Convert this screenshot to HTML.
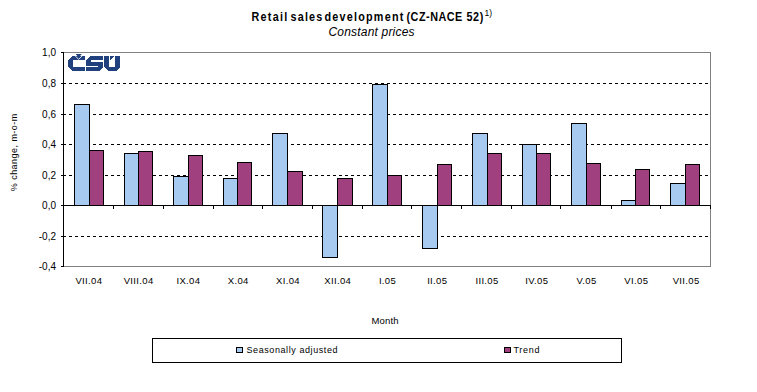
<!DOCTYPE html>
<html><head><meta charset="utf-8"><style>
html,body{margin:0;padding:0;background:#fff;}
svg{display:block;}
text{font-family:"Liberation Sans",sans-serif;}
</style></head><body>
<svg width="757" height="392" viewBox="0 0 757 392" shape-rendering="crispEdges">
<rect x="0" y="0" width="757" height="392" fill="#fff"/>
<g font-size="12" font-weight="bold" transform="scale(0.9,1)"><text x="279.44" y="21" textLength="39.78" lengthAdjust="spacing">Retail</text><text x="322.78" y="21" textLength="35.33" lengthAdjust="spacing">sales</text><text x="360.56" y="21" textLength="87.56" lengthAdjust="spacing">development</text><text x="451.67" y="21" textLength="62.00" lengthAdjust="spacing">(CZ-NACE</text><text x="518.33" y="21" textLength="18.67" lengthAdjust="spacing">52)</text></g>
<text x="484.6" y="15.5" font-size="8.5">1)</text>
<text x="328.5" y="35.5" font-size="12" font-style="italic" textLength="86" lengthAdjust="spacing">Constant prices</text>
<path d="M63 83h3v1h-3zM69 83h3v1h-3zM75 83h3v1h-3zM81 83h3v1h-3zM87 83h3v1h-3zM93 83h3v1h-3zM99 83h3v1h-3zM105 83h3v1h-3zM111 83h3v1h-3zM117 83h3v1h-3zM123 83h3v1h-3zM129 83h3v1h-3zM135 83h3v1h-3zM141 83h3v1h-3zM147 83h3v1h-3zM153 83h3v1h-3zM159 83h3v1h-3zM165 83h3v1h-3zM171 83h3v1h-3zM177 83h3v1h-3zM183 83h3v1h-3zM189 83h3v1h-3zM195 83h3v1h-3zM201 83h3v1h-3zM207 83h3v1h-3zM213 83h3v1h-3zM219 83h3v1h-3zM225 83h3v1h-3zM231 83h3v1h-3zM237 83h3v1h-3zM243 83h3v1h-3zM249 83h3v1h-3zM255 83h3v1h-3zM261 83h3v1h-3zM267 83h3v1h-3zM273 83h3v1h-3zM279 83h3v1h-3zM285 83h3v1h-3zM291 83h3v1h-3zM297 83h3v1h-3zM303 83h3v1h-3zM309 83h3v1h-3zM315 83h3v1h-3zM321 83h3v1h-3zM327 83h3v1h-3zM333 83h3v1h-3zM339 83h3v1h-3zM345 83h3v1h-3zM351 83h3v1h-3zM357 83h3v1h-3zM363 83h3v1h-3zM369 83h3v1h-3zM375 83h3v1h-3zM381 83h3v1h-3zM387 83h3v1h-3zM393 83h3v1h-3zM399 83h3v1h-3zM405 83h3v1h-3zM411 83h3v1h-3zM417 83h3v1h-3zM423 83h3v1h-3zM429 83h3v1h-3zM435 83h3v1h-3zM441 83h3v1h-3zM447 83h3v1h-3zM453 83h3v1h-3zM459 83h3v1h-3zM465 83h3v1h-3zM471 83h3v1h-3zM477 83h3v1h-3zM483 83h3v1h-3zM489 83h3v1h-3zM495 83h3v1h-3zM501 83h3v1h-3zM507 83h3v1h-3zM513 83h3v1h-3zM519 83h3v1h-3zM525 83h3v1h-3zM531 83h3v1h-3zM537 83h3v1h-3zM543 83h3v1h-3zM549 83h3v1h-3zM555 83h3v1h-3zM561 83h3v1h-3zM567 83h3v1h-3zM573 83h3v1h-3zM579 83h3v1h-3zM585 83h3v1h-3zM591 83h3v1h-3zM597 83h3v1h-3zM603 83h3v1h-3zM609 83h3v1h-3zM615 83h3v1h-3zM621 83h3v1h-3zM627 83h3v1h-3zM633 83h3v1h-3zM639 83h3v1h-3zM645 83h3v1h-3zM651 83h3v1h-3zM657 83h3v1h-3zM663 83h3v1h-3zM669 83h3v1h-3zM675 83h3v1h-3zM681 83h3v1h-3zM687 83h3v1h-3zM693 83h3v1h-3zM699 83h3v1h-3zM705 83h3v1h-3z" fill="#000"/>
<path d="M63 114h3v1h-3zM69 114h3v1h-3zM75 114h3v1h-3zM81 114h3v1h-3zM87 114h3v1h-3zM93 114h3v1h-3zM99 114h3v1h-3zM105 114h3v1h-3zM111 114h3v1h-3zM117 114h3v1h-3zM123 114h3v1h-3zM129 114h3v1h-3zM135 114h3v1h-3zM141 114h3v1h-3zM147 114h3v1h-3zM153 114h3v1h-3zM159 114h3v1h-3zM165 114h3v1h-3zM171 114h3v1h-3zM177 114h3v1h-3zM183 114h3v1h-3zM189 114h3v1h-3zM195 114h3v1h-3zM201 114h3v1h-3zM207 114h3v1h-3zM213 114h3v1h-3zM219 114h3v1h-3zM225 114h3v1h-3zM231 114h3v1h-3zM237 114h3v1h-3zM243 114h3v1h-3zM249 114h3v1h-3zM255 114h3v1h-3zM261 114h3v1h-3zM267 114h3v1h-3zM273 114h3v1h-3zM279 114h3v1h-3zM285 114h3v1h-3zM291 114h3v1h-3zM297 114h3v1h-3zM303 114h3v1h-3zM309 114h3v1h-3zM315 114h3v1h-3zM321 114h3v1h-3zM327 114h3v1h-3zM333 114h3v1h-3zM339 114h3v1h-3zM345 114h3v1h-3zM351 114h3v1h-3zM357 114h3v1h-3zM363 114h3v1h-3zM369 114h3v1h-3zM375 114h3v1h-3zM381 114h3v1h-3zM387 114h3v1h-3zM393 114h3v1h-3zM399 114h3v1h-3zM405 114h3v1h-3zM411 114h3v1h-3zM417 114h3v1h-3zM423 114h3v1h-3zM429 114h3v1h-3zM435 114h3v1h-3zM441 114h3v1h-3zM447 114h3v1h-3zM453 114h3v1h-3zM459 114h3v1h-3zM465 114h3v1h-3zM471 114h3v1h-3zM477 114h3v1h-3zM483 114h3v1h-3zM489 114h3v1h-3zM495 114h3v1h-3zM501 114h3v1h-3zM507 114h3v1h-3zM513 114h3v1h-3zM519 114h3v1h-3zM525 114h3v1h-3zM531 114h3v1h-3zM537 114h3v1h-3zM543 114h3v1h-3zM549 114h3v1h-3zM555 114h3v1h-3zM561 114h3v1h-3zM567 114h3v1h-3zM573 114h3v1h-3zM579 114h3v1h-3zM585 114h3v1h-3zM591 114h3v1h-3zM597 114h3v1h-3zM603 114h3v1h-3zM609 114h3v1h-3zM615 114h3v1h-3zM621 114h3v1h-3zM627 114h3v1h-3zM633 114h3v1h-3zM639 114h3v1h-3zM645 114h3v1h-3zM651 114h3v1h-3zM657 114h3v1h-3zM663 114h3v1h-3zM669 114h3v1h-3zM675 114h3v1h-3zM681 114h3v1h-3zM687 114h3v1h-3zM693 114h3v1h-3zM699 114h3v1h-3zM705 114h3v1h-3z" fill="#000"/>
<path d="M63 144h3v1h-3zM69 144h3v1h-3zM75 144h3v1h-3zM81 144h3v1h-3zM87 144h3v1h-3zM93 144h3v1h-3zM99 144h3v1h-3zM105 144h3v1h-3zM111 144h3v1h-3zM117 144h3v1h-3zM123 144h3v1h-3zM129 144h3v1h-3zM135 144h3v1h-3zM141 144h3v1h-3zM147 144h3v1h-3zM153 144h3v1h-3zM159 144h3v1h-3zM165 144h3v1h-3zM171 144h3v1h-3zM177 144h3v1h-3zM183 144h3v1h-3zM189 144h3v1h-3zM195 144h3v1h-3zM201 144h3v1h-3zM207 144h3v1h-3zM213 144h3v1h-3zM219 144h3v1h-3zM225 144h3v1h-3zM231 144h3v1h-3zM237 144h3v1h-3zM243 144h3v1h-3zM249 144h3v1h-3zM255 144h3v1h-3zM261 144h3v1h-3zM267 144h3v1h-3zM273 144h3v1h-3zM279 144h3v1h-3zM285 144h3v1h-3zM291 144h3v1h-3zM297 144h3v1h-3zM303 144h3v1h-3zM309 144h3v1h-3zM315 144h3v1h-3zM321 144h3v1h-3zM327 144h3v1h-3zM333 144h3v1h-3zM339 144h3v1h-3zM345 144h3v1h-3zM351 144h3v1h-3zM357 144h3v1h-3zM363 144h3v1h-3zM369 144h3v1h-3zM375 144h3v1h-3zM381 144h3v1h-3zM387 144h3v1h-3zM393 144h3v1h-3zM399 144h3v1h-3zM405 144h3v1h-3zM411 144h3v1h-3zM417 144h3v1h-3zM423 144h3v1h-3zM429 144h3v1h-3zM435 144h3v1h-3zM441 144h3v1h-3zM447 144h3v1h-3zM453 144h3v1h-3zM459 144h3v1h-3zM465 144h3v1h-3zM471 144h3v1h-3zM477 144h3v1h-3zM483 144h3v1h-3zM489 144h3v1h-3zM495 144h3v1h-3zM501 144h3v1h-3zM507 144h3v1h-3zM513 144h3v1h-3zM519 144h3v1h-3zM525 144h3v1h-3zM531 144h3v1h-3zM537 144h3v1h-3zM543 144h3v1h-3zM549 144h3v1h-3zM555 144h3v1h-3zM561 144h3v1h-3zM567 144h3v1h-3zM573 144h3v1h-3zM579 144h3v1h-3zM585 144h3v1h-3zM591 144h3v1h-3zM597 144h3v1h-3zM603 144h3v1h-3zM609 144h3v1h-3zM615 144h3v1h-3zM621 144h3v1h-3zM627 144h3v1h-3zM633 144h3v1h-3zM639 144h3v1h-3zM645 144h3v1h-3zM651 144h3v1h-3zM657 144h3v1h-3zM663 144h3v1h-3zM669 144h3v1h-3zM675 144h3v1h-3zM681 144h3v1h-3zM687 144h3v1h-3zM693 144h3v1h-3zM699 144h3v1h-3zM705 144h3v1h-3z" fill="#000"/>
<path d="M63 175h3v1h-3zM69 175h3v1h-3zM75 175h3v1h-3zM81 175h3v1h-3zM87 175h3v1h-3zM93 175h3v1h-3zM99 175h3v1h-3zM105 175h3v1h-3zM111 175h3v1h-3zM117 175h3v1h-3zM123 175h3v1h-3zM129 175h3v1h-3zM135 175h3v1h-3zM141 175h3v1h-3zM147 175h3v1h-3zM153 175h3v1h-3zM159 175h3v1h-3zM165 175h3v1h-3zM171 175h3v1h-3zM177 175h3v1h-3zM183 175h3v1h-3zM189 175h3v1h-3zM195 175h3v1h-3zM201 175h3v1h-3zM207 175h3v1h-3zM213 175h3v1h-3zM219 175h3v1h-3zM225 175h3v1h-3zM231 175h3v1h-3zM237 175h3v1h-3zM243 175h3v1h-3zM249 175h3v1h-3zM255 175h3v1h-3zM261 175h3v1h-3zM267 175h3v1h-3zM273 175h3v1h-3zM279 175h3v1h-3zM285 175h3v1h-3zM291 175h3v1h-3zM297 175h3v1h-3zM303 175h3v1h-3zM309 175h3v1h-3zM315 175h3v1h-3zM321 175h3v1h-3zM327 175h3v1h-3zM333 175h3v1h-3zM339 175h3v1h-3zM345 175h3v1h-3zM351 175h3v1h-3zM357 175h3v1h-3zM363 175h3v1h-3zM369 175h3v1h-3zM375 175h3v1h-3zM381 175h3v1h-3zM387 175h3v1h-3zM393 175h3v1h-3zM399 175h3v1h-3zM405 175h3v1h-3zM411 175h3v1h-3zM417 175h3v1h-3zM423 175h3v1h-3zM429 175h3v1h-3zM435 175h3v1h-3zM441 175h3v1h-3zM447 175h3v1h-3zM453 175h3v1h-3zM459 175h3v1h-3zM465 175h3v1h-3zM471 175h3v1h-3zM477 175h3v1h-3zM483 175h3v1h-3zM489 175h3v1h-3zM495 175h3v1h-3zM501 175h3v1h-3zM507 175h3v1h-3zM513 175h3v1h-3zM519 175h3v1h-3zM525 175h3v1h-3zM531 175h3v1h-3zM537 175h3v1h-3zM543 175h3v1h-3zM549 175h3v1h-3zM555 175h3v1h-3zM561 175h3v1h-3zM567 175h3v1h-3zM573 175h3v1h-3zM579 175h3v1h-3zM585 175h3v1h-3zM591 175h3v1h-3zM597 175h3v1h-3zM603 175h3v1h-3zM609 175h3v1h-3zM615 175h3v1h-3zM621 175h3v1h-3zM627 175h3v1h-3zM633 175h3v1h-3zM639 175h3v1h-3zM645 175h3v1h-3zM651 175h3v1h-3zM657 175h3v1h-3zM663 175h3v1h-3zM669 175h3v1h-3zM675 175h3v1h-3zM681 175h3v1h-3zM687 175h3v1h-3zM693 175h3v1h-3zM699 175h3v1h-3zM705 175h3v1h-3z" fill="#000"/>
<path d="M63 236h3v1h-3zM69 236h3v1h-3zM75 236h3v1h-3zM81 236h3v1h-3zM87 236h3v1h-3zM93 236h3v1h-3zM99 236h3v1h-3zM105 236h3v1h-3zM111 236h3v1h-3zM117 236h3v1h-3zM123 236h3v1h-3zM129 236h3v1h-3zM135 236h3v1h-3zM141 236h3v1h-3zM147 236h3v1h-3zM153 236h3v1h-3zM159 236h3v1h-3zM165 236h3v1h-3zM171 236h3v1h-3zM177 236h3v1h-3zM183 236h3v1h-3zM189 236h3v1h-3zM195 236h3v1h-3zM201 236h3v1h-3zM207 236h3v1h-3zM213 236h3v1h-3zM219 236h3v1h-3zM225 236h3v1h-3zM231 236h3v1h-3zM237 236h3v1h-3zM243 236h3v1h-3zM249 236h3v1h-3zM255 236h3v1h-3zM261 236h3v1h-3zM267 236h3v1h-3zM273 236h3v1h-3zM279 236h3v1h-3zM285 236h3v1h-3zM291 236h3v1h-3zM297 236h3v1h-3zM303 236h3v1h-3zM309 236h3v1h-3zM315 236h3v1h-3zM321 236h3v1h-3zM327 236h3v1h-3zM333 236h3v1h-3zM339 236h3v1h-3zM345 236h3v1h-3zM351 236h3v1h-3zM357 236h3v1h-3zM363 236h3v1h-3zM369 236h3v1h-3zM375 236h3v1h-3zM381 236h3v1h-3zM387 236h3v1h-3zM393 236h3v1h-3zM399 236h3v1h-3zM405 236h3v1h-3zM411 236h3v1h-3zM417 236h3v1h-3zM423 236h3v1h-3zM429 236h3v1h-3zM435 236h3v1h-3zM441 236h3v1h-3zM447 236h3v1h-3zM453 236h3v1h-3zM459 236h3v1h-3zM465 236h3v1h-3zM471 236h3v1h-3zM477 236h3v1h-3zM483 236h3v1h-3zM489 236h3v1h-3zM495 236h3v1h-3zM501 236h3v1h-3zM507 236h3v1h-3zM513 236h3v1h-3zM519 236h3v1h-3zM525 236h3v1h-3zM531 236h3v1h-3zM537 236h3v1h-3zM543 236h3v1h-3zM549 236h3v1h-3zM555 236h3v1h-3zM561 236h3v1h-3zM567 236h3v1h-3zM573 236h3v1h-3zM579 236h3v1h-3zM585 236h3v1h-3zM591 236h3v1h-3zM597 236h3v1h-3zM603 236h3v1h-3zM609 236h3v1h-3zM615 236h3v1h-3zM621 236h3v1h-3zM627 236h3v1h-3zM633 236h3v1h-3zM639 236h3v1h-3zM645 236h3v1h-3zM651 236h3v1h-3zM657 236h3v1h-3zM663 236h3v1h-3zM669 236h3v1h-3zM675 236h3v1h-3zM681 236h3v1h-3zM687 236h3v1h-3zM693 236h3v1h-3zM699 236h3v1h-3zM705 236h3v1h-3z" fill="#000"/>
<rect x="74" y="104" width="16" height="102" fill="#000"/>
<rect x="75" y="105" width="14" height="100" fill="#a6caf0"/>
<rect x="89" y="150" width="15" height="56" fill="#000"/>
<rect x="90" y="151" width="13" height="54" fill="#a0407f"/>
<rect x="124" y="153" width="15" height="53" fill="#000"/>
<rect x="125" y="154" width="13" height="51" fill="#a6caf0"/>
<rect x="138" y="151" width="15" height="55" fill="#000"/>
<rect x="139" y="152" width="13" height="53" fill="#a0407f"/>
<rect x="173" y="176" width="16" height="30" fill="#000"/>
<rect x="174" y="177" width="14" height="28" fill="#a6caf0"/>
<rect x="188" y="155" width="15" height="51" fill="#000"/>
<rect x="189" y="156" width="13" height="49" fill="#a0407f"/>
<rect x="223" y="178" width="15" height="28" fill="#000"/>
<rect x="224" y="179" width="13" height="26" fill="#a6caf0"/>
<rect x="237" y="162" width="15" height="44" fill="#000"/>
<rect x="238" y="163" width="13" height="42" fill="#a0407f"/>
<rect x="272" y="133" width="16" height="73" fill="#000"/>
<rect x="273" y="134" width="14" height="71" fill="#a6caf0"/>
<rect x="287" y="171" width="16" height="35" fill="#000"/>
<rect x="288" y="172" width="14" height="33" fill="#a0407f"/>
<rect x="322" y="205" width="16" height="53" fill="#000"/>
<rect x="323" y="206" width="14" height="51" fill="#a6caf0"/>
<rect x="337" y="178" width="16" height="28" fill="#000"/>
<rect x="338" y="179" width="14" height="26" fill="#a0407f"/>
<rect x="372" y="84" width="16" height="122" fill="#000"/>
<rect x="373" y="85" width="14" height="120" fill="#a6caf0"/>
<rect x="387" y="175" width="15" height="31" fill="#000"/>
<rect x="388" y="176" width="13" height="29" fill="#a0407f"/>
<rect x="422" y="205" width="16" height="44" fill="#000"/>
<rect x="423" y="206" width="14" height="42" fill="#a6caf0"/>
<rect x="437" y="164" width="15" height="42" fill="#000"/>
<rect x="438" y="165" width="13" height="40" fill="#a0407f"/>
<rect x="472" y="133" width="16" height="73" fill="#000"/>
<rect x="473" y="134" width="14" height="71" fill="#a6caf0"/>
<rect x="487" y="153" width="15" height="53" fill="#000"/>
<rect x="488" y="154" width="13" height="51" fill="#a0407f"/>
<rect x="522" y="144" width="15" height="62" fill="#000"/>
<rect x="523" y="145" width="13" height="60" fill="#a6caf0"/>
<rect x="536" y="153" width="15" height="53" fill="#000"/>
<rect x="537" y="154" width="13" height="51" fill="#a0407f"/>
<rect x="571" y="123" width="16" height="83" fill="#000"/>
<rect x="572" y="124" width="14" height="81" fill="#a6caf0"/>
<rect x="586" y="163" width="15" height="43" fill="#000"/>
<rect x="587" y="164" width="13" height="41" fill="#a0407f"/>
<rect x="621" y="200" width="15" height="6" fill="#000"/>
<rect x="622" y="201" width="13" height="4" fill="#a6caf0"/>
<rect x="635" y="169" width="15" height="37" fill="#000"/>
<rect x="636" y="170" width="13" height="35" fill="#a0407f"/>
<rect x="670" y="183" width="16" height="23" fill="#000"/>
<rect x="671" y="184" width="14" height="21" fill="#a6caf0"/>
<rect x="685" y="164" width="15" height="42" fill="#000"/>
<rect x="686" y="165" width="13" height="40" fill="#a0407f"/>
<rect x="63" y="52" width="648" height="1" fill="#808080"/>
<rect x="710" y="52" width="1" height="215" fill="#808080"/>
<rect x="63" y="266" width="648" height="1" fill="#808080"/>
<rect x="63" y="52" width="1" height="215" fill="#000"/>
<rect x="63" y="205" width="648" height="1" fill="#000"/>
<rect x="61" y="52" width="2" height="1" fill="#000"/>
<rect x="61" y="83" width="2" height="1" fill="#000"/>
<rect x="61" y="114" width="2" height="1" fill="#000"/>
<rect x="61" y="144" width="2" height="1" fill="#000"/>
<rect x="61" y="175" width="2" height="1" fill="#000"/>
<rect x="61" y="205" width="2" height="1" fill="#000"/>
<rect x="61" y="236" width="2" height="1" fill="#000"/>
<rect x="61" y="266" width="2" height="1" fill="#000"/>
<rect x="113" y="206" width="1" height="3" fill="#000"/>
<rect x="163" y="206" width="1" height="3" fill="#000"/>
<rect x="213" y="206" width="1" height="3" fill="#000"/>
<rect x="262" y="206" width="1" height="3" fill="#000"/>
<rect x="312" y="206" width="1" height="3" fill="#000"/>
<rect x="362" y="206" width="1" height="3" fill="#000"/>
<rect x="411" y="206" width="1" height="3" fill="#000"/>
<rect x="461" y="206" width="1" height="3" fill="#000"/>
<rect x="511" y="206" width="1" height="3" fill="#000"/>
<rect x="560" y="206" width="1" height="3" fill="#000"/>
<rect x="611" y="206" width="1" height="3" fill="#000"/>
<rect x="660" y="206" width="1" height="3" fill="#000"/>
<rect x="710" y="206" width="1" height="3" fill="#000"/>
<g font-size="10" fill="#000">
<text x="56" y="56" text-anchor="end">1,0</text>
<text x="56" y="87" text-anchor="end">0,8</text>
<text x="56" y="118" text-anchor="end">0,6</text>
<text x="56" y="148" text-anchor="end">0,4</text>
<text x="56" y="179" text-anchor="end">0,2</text>
<text x="56" y="209" text-anchor="end">0,0</text>
<text x="56" y="240" text-anchor="end">-0,2</text>
<text x="56" y="270" text-anchor="end">-0,4</text>
</g>
<g font-size="9.5" fill="#000" letter-spacing="0.35">
<text x="88.88" y="284" text-anchor="middle">VII.04</text>
<text x="138.65" y="284" text-anchor="middle">VIII.04</text>
<text x="188.42" y="284" text-anchor="middle">IX.04</text>
<text x="238.19" y="284" text-anchor="middle">X.04</text>
<text x="287.96" y="284" text-anchor="middle">XI.04</text>
<text x="337.73" y="284" text-anchor="middle">XII.04</text>
<text x="387.50" y="284" text-anchor="middle">I.05</text>
<text x="437.26" y="284" text-anchor="middle">II.05</text>
<text x="487.03" y="284" text-anchor="middle">III.05</text>
<text x="536.80" y="284" text-anchor="middle">IV.05</text>
<text x="586.57" y="284" text-anchor="middle">V.05</text>
<text x="636.34" y="284" text-anchor="middle">VI.05</text>
<text x="686.11" y="284" text-anchor="middle">VII.05</text>
</g>
<text transform="translate(16.8 152.5) rotate(-90)" font-size="9" text-anchor="middle" textLength="77.5" lengthAdjust="spacing">% change, m-o-m</text>
<text x="385" y="324" font-size="9.5" text-anchor="middle" textLength="27" lengthAdjust="spacing">Month</text>
<g fill="#21417e">
<path d="M73 56H85V60H73V67H85V71H72L68 67V60Z"/>
<path d="M75.6 54H81.8L78.7 57.6Z" shape-rendering="geometricPrecision"/>
<path d="M75.1 55.8L78.7 59.3L82.3 55.8" fill="none" stroke="#fff" stroke-width="0.85" shape-rendering="geometricPrecision"/>
<path d="M90 56H103V60H91V62H103V67L99 71H86V67H98V66H86V60Z"/>
<path d="M104 56H109V67H115V56H120V67L116 71H108.5L104 67Z"/>
<path d="M110 56H114L110 60Z"/>
</g>
<rect x="152" y="338" width="470" height="25" fill="#000"/>
<rect x="153" y="339" width="468" height="23" fill="#fff"/>
<rect x="236" y="347" width="7" height="6" fill="#000"/>
<rect x="237" y="348" width="5" height="4" fill="#a6caf0"/>
<text x="246.5" y="353" font-size="9" textLength="91" lengthAdjust="spacing">Seasonally adjusted</text>
<rect x="504" y="347" width="7" height="6" fill="#000"/>
<rect x="505" y="348" width="5" height="4" fill="#a0407f"/>
<text x="513.5" y="353" font-size="9" textLength="26" lengthAdjust="spacing">Trend</text>
</svg>
</body></html>
